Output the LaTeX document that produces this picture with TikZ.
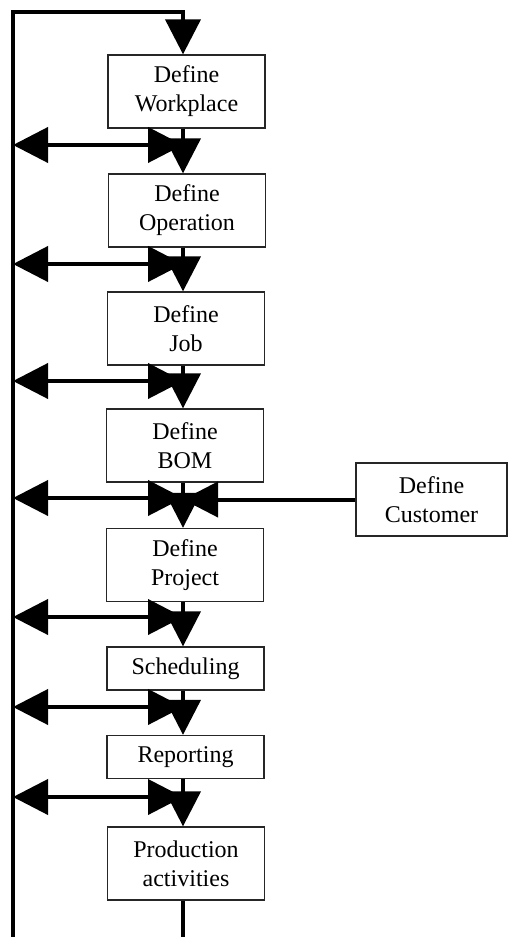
\documentclass[tikz,border=0pt]{standalone}
\usepackage{fontspec}
\setmainfont{Liberation Serif}
\usetikzlibrary{arrows.meta}
\begin{document}
\begin{tikzpicture}[x=1pt,y=-1pt,
  box/.style={draw=black!85,line width=1.3pt,fill=white,minimum width=157pt,
    align=center,inner sep=0pt,font=\fontsize{24}{29}\selectfont},
  tall/.style={box,minimum height=73pt},
  short/.style={box,minimum height=43pt},
  wire/.style={line width=4pt},
  flow/.style={wire,-{Triangle[length=35pt,width=35pt]}},
  both/.style={wire,{Triangle[length=35pt,width=35pt]}-{Triangle[length=35pt,width=35pt]}}]
\useasboundingbox (0,0) rectangle (508,937);

% process boxes
\node[tall]  (wp)   at (186.5,91.5) {Define\\Workplace};
\node[tall]  (op)   at (187,210.5)  {Define\\Operation};
\node[tall]  (job)  at (186,328.5)  {Define\\Job};
\node[tall]  (bom)  at (185,445.5)  {Define\\BOM};
\node[tall]  (proj) at (185,565)    {Define\\Project};
\node[short] (sch)  at (185.5,668.5){Scheduling};
\node[short] (rep)  at (185.5,757)  {Reporting};
\node[tall]  (prod) at (186,863.5)  {Production\\activities};
\node[tall,minimum width=151pt] (cust) at (431.5,499.5) {Define\\Customer};

% feedback spine and main axis
\coordinate (top)    at (13,12);
\coordinate (bot)    at (13,937);
\coordinate (corner) at (183,12);
\coordinate (end)    at (183,937);

\draw[flow] (bot) -- (top) -- (corner) -- (corner |- wp.north);

% junctions on the spine
\coordinate (h1) at (13,145);
\coordinate (h2) at (13,264);
\coordinate (h3) at (13,381);
\coordinate (h4) at (13,498);
\coordinate (h5) at (13,617);
\coordinate (h6) at (13,707);
\coordinate (h7) at (13,797);

% two-way links between spine and axis
\foreach \h in {h1,h2,h3,h4,h5,h6,h7}
  \draw[both] (\h) -- (\h -| corner);

% downward flow
\draw[flow] (wp.south -| corner)   -- (op.north -| corner);
\draw[flow] (op.south -| corner)   -- (job.north -| corner);
\draw[flow] (job.south -| corner)  -- (bom.north -| corner);
\draw[flow] (bom.south -| corner)  -- (proj.north -| corner);
\draw[flow] (proj.south -| corner) -- (sch.north -| corner);
\draw[flow] (sch.south -| corner)  -- (rep.north -| corner);
\draw[flow] (rep.south -| corner)  -- (prod.north -| corner);
\draw[wire] (prod.south -| corner) -- (end);

% customer input
\draw[flow] (cust.west) -- (cust.west -| corner);
\end{tikzpicture}
\end{document}
